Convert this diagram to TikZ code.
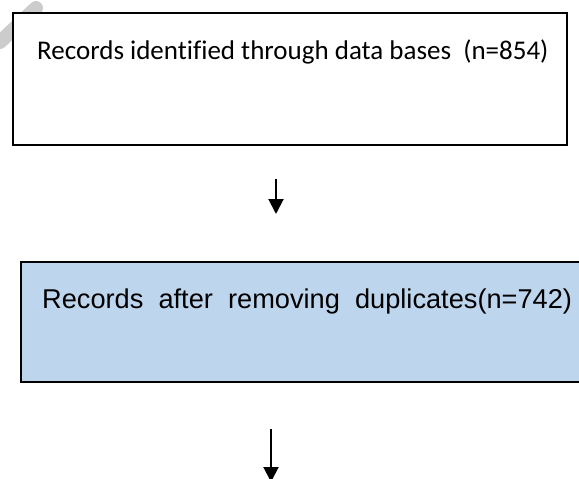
\documentclass[tikz,border=0pt]{standalone}
\usepackage{fontspec}
\setmainfont{Liberation Sans}
\newfontfamily\recfont[Ligatures=NoCommon]{Carlito}
\usetikzlibrary{arrows.meta}

\definecolor{dupfill}{RGB}{190,214,237}
\definecolor{markgray}{RGB}{204,204,204}

\tikzset{
  flowbox/.style={draw, line width=2pt, anchor=north west, inner sep=0pt, outer sep=0pt},
  flowarrow/.style={line width=2pt, -{Triangle[width=15pt,length=15pt]}},
}

\begin{document}
\begin{tikzpicture}[x=1pt,y=-1pt]%
\useasboundingbox (0,0) rectangle (579,479);%
\clip (0,0) rectangle (579,479);%
\draw[line width=14pt, line cap=round, markgray] (0,42) -- (36,8);%
\node[flowbox, fill=white, minimum width=554pt, minimum height=132pt] (recbox) at (13,13) {};%
\node[font=\recfont\fontsize{27}{32}\selectfont, anchor=base west, inner sep=0pt] (rectext) at (37,59) {Records identified through data bases\ \ (n=854)};%
\coordinate (arrowatop) at (276,179);%
\coordinate (arrowatip) at (276,214);%
\draw[flowarrow] (arrowatop) -- (arrowatip);%
\node[flowbox, fill=dupfill, minimum width=570pt, minimum height=120pt] (dupbox) at (21,262) {};%
\node[font=\fontsize{27.2}{32}\selectfont, anchor=base west, inner sep=0pt] (duptext) at (42,308) {Records\ \ after\ \ removing\ \ duplicates(n=742)};%
\coordinate (arrowbtop) at (271,429);%
\coordinate (arrowbtip) at (271,482);%
\draw[flowarrow] (arrowbtop) -- (arrowbtip);%
\end{tikzpicture}
\end{document}
